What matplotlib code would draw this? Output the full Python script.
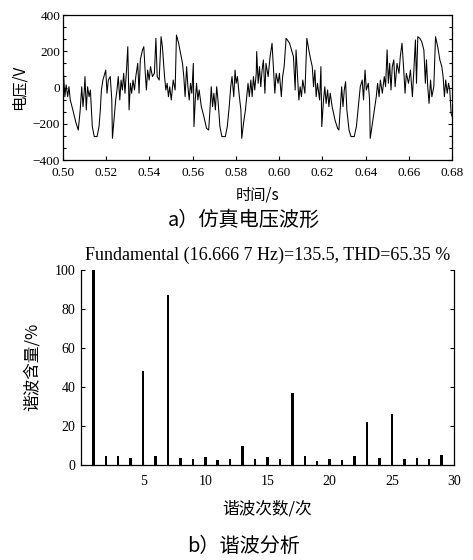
import matplotlib
matplotlib.use("Agg")
import matplotlib.pyplot as plt
from matplotlib.ticker import AutoMinorLocator, MultipleLocator

plt.rcParams['font.family'] = ['Liberation Serif', 'Noto Sans CJK SC', 'DejaVu Sans']
CJK = ['Noto Sans CJK SC', 'DejaVu Sans']

# waveform (time in s, voltage in V)
t = [0.5000, 0.5003, 0.5009, 0.5015, 0.5022, 0.5028, 0.5034, 0.5046, 0.5059, 0.5071,
     0.5080, 0.5087, 0.5093, 0.5099, 0.5102, 0.5108, 0.5114, 0.5121, 0.5127, 0.5136,
     0.5145, 0.5158, 0.5167, 0.5173, 0.5178, 0.5185, 0.5198, 0.5204, 0.5210, 0.5219,
     0.5226, 0.5229, 0.5235, 0.5244, 0.5250, 0.5256, 0.5263, 0.5269, 0.5275, 0.5281,
     0.5287, 0.5294, 0.5300, 0.5306, 0.5312, 0.5318, 0.5324, 0.5331, 0.5337, 0.5346,
     0.5352, 0.5358, 0.5368, 0.5374, 0.5380, 0.5386, 0.5392, 0.5399, 0.5405, 0.5414,
     0.5423, 0.5430, 0.5436, 0.5445, 0.5454, 0.5460, 0.5470, 0.5476, 0.5482, 0.5488,
     0.5494, 0.5501, 0.5510, 0.5519, 0.5525, 0.5535, 0.5544, 0.5553, 0.5559, 0.5565,
     0.5572, 0.5578, 0.5584, 0.5590, 0.5596, 0.5603, 0.5606, 0.5612, 0.5618, 0.5624,
     0.5630, 0.5640, 0.5652, 0.5664, 0.5674, 0.5680, 0.5686, 0.5692, 0.5698, 0.5705,
     0.5711, 0.5717, 0.5726, 0.5735, 0.5751, 0.5760, 0.5769, 0.5776, 0.5782, 0.5790,
     0.5796, 0.5801, 0.5807, 0.5816, 0.5823, 0.5827, 0.5835, 0.5844, 0.5850, 0.5856,
     0.5862, 0.5869, 0.5875, 0.5881, 0.5887, 0.5894, 0.5896, 0.5903, 0.5909, 0.5915,
     0.5921, 0.5927, 0.5934, 0.5939, 0.5949, 0.5958, 0.5967, 0.5973, 0.5980, 0.5986,
     0.5995, 0.6001, 0.6010, 0.6016, 0.6023, 0.6032, 0.6038, 0.6048, 0.6057, 0.6066,
     0.6074, 0.6078, 0.6085, 0.6091, 0.6097, 0.6103, 0.6109, 0.6119, 0.6128, 0.6137,
     0.6146, 0.6153, 0.6159, 0.6165, 0.6171, 0.6177, 0.6187, 0.6193, 0.6197, 0.6205,
     0.6211, 0.6217, 0.6224, 0.6230, 0.6236, 0.6245, 0.6258, 0.6270, 0.6276, 0.6282,
     0.6289, 0.6295, 0.6301, 0.6307, 0.6313, 0.6323, 0.6332, 0.6347, 0.6357, 0.6366,
     0.6375, 0.6384, 0.6390, 0.6397, 0.6403, 0.6412, 0.6418, 0.6421, 0.6431, 0.6440,
     0.6449, 0.6455, 0.6462, 0.6468, 0.6477, 0.6486, 0.6492, 0.6499, 0.6505, 0.6511,
     0.6517, 0.6523, 0.6530, 0.6536, 0.6545, 0.6554, 0.6560, 0.6568, 0.6576, 0.6582,
     0.6588, 0.6598, 0.6607, 0.6616, 0.6622, 0.6630, 0.6635, 0.6641, 0.6650, 0.6659,
     0.6669, 0.6676, 0.6681, 0.6687, 0.6693, 0.6700, 0.6706, 0.6715, 0.6723, 0.6733,
     0.6743, 0.6752, 0.6758, 0.6764, 0.6770, 0.6777, 0.6783, 0.6789, 0.6795, 0.6800]
u = [134, 70, -50, 15, -50, 5, -68, -123, -188, -234,
     -123, 5, -105, -13, 61, -123, 5, -50, -13, -215,
     -270, -270, -215, -123, -13, 42, 97, -31, 42, 61,
     -68, -280, -197, -68, -13, 61, -68, 42, -13, 79,
     -31, 97, 226, -123, 24, -31, 42, -13, 61, 134,
     -31, 153, 208, 226, 97, -13, 97, 42, 116, 61,
     79, 272, 61, 42, 281, 226, 61, -13, 24, -50,
     5, -68, 42, -13, 290, 245, 189, 134, 61, -50,
     116, 5, -68, 24, -31, 134, -215, -68, 24, -68,
     -13, -105, -160, -224, -234, -123, 5, -105, -31, -123,
     5, -68, -215, -270, -270, -215, -105, 5, 61, -50,
     97, 24, 61, -50, -123, -280, -197, -123, -50, 24,
     -50, 42, -50, 61, -13, 79, 199, 24, 116, 5,
     97, 153, -31, 134, 61, 171, 245, 116, -31, 79,
     24, 79, -50, 61, 116, 272, 263, 245, 208, 171,
     -13, 208, 61, -68, 5, -50, 42, -31, 272, 208,
     153, 116, 5, 97, -50, 24, -68, 116, -215, -68,
     5, -87, -13, -105, -31, -105, -178, -224, -234, -123,
     5, -105, -13, 33, -123, -234, -270, -270, -215, -105,
     5, 42, -68, 97, -13, 24, -68, -280, -197, -123,
     -50, 24, -50, 42, -31, 61, 5, 208, 24, 134,
     -13, 116, 153, 5, 134, 79, 171, 245, 97, -31,
     79, 24, 97, -50, 79, 263, 24, 281, 272, 254,
     208, 24, 153, 5, -87, 42, -50, 5, 281, 226,
     153, 116, 61, -50, 42, -31, 24, -13, -142, -160]

# harmonic spectrum (% of fundamental)
orders = list(range(1, 30))
content = [100, 4.3, 4.3, 3.3, 48, 4.3, 87, 3.3, 3.1, 3.9,
           2.6, 3.1, 9.5, 3.1, 3.9, 2.9, 37, 4.3, 2.2, 3.1,
           2.6, 4.3, 22, 3.5, 26, 3.1, 3.3, 3.0, 5.1]

t_ticks = [0.50, 0.52, 0.54, 0.56, 0.58, 0.60, 0.62, 0.64, 0.66, 0.68]
title_b = "Fundamental (16.666 7 Hz)=135.5, THD=65.35 %"

fig = plt.figure(figsize=(4.73, 5.6), dpi=100)

# a) voltage waveform
ax1 = fig.add_axes([0.133, 0.714, 0.823, 0.259])
ax1.plot(t, u, color='black', lw=0.75)
ax1.set_xlim(0.50, 0.68)
ax1.set_ylim(-400, 400)
ax1.set_xticks(t_ticks)
ax1.set_xticklabels(["%.2f" % v for v in t_ticks])
ax1.set_yticks([-400, -200, 0, 200, 400])
ax1.yaxis.set_minor_locator(AutoMinorLocator(3))
ax1.tick_params(direction='in', labelsize=9.5, length=3, width=0.8,
                right=True, which='both')
ax1.tick_params(axis='x', pad=5)
ax1.tick_params(axis='y', pad=2)
ax1.tick_params(which='minor', length=2)
for s in ax1.spines.values():
    s.set_linewidth(0.9)
ax1.set_xlabel("时间/s", fontsize=11, labelpad=5, family=CJK)
ax1.set_ylabel("电压/V", fontsize=11, labelpad=4, family=CJK)
fig.text(0.515, 0.606, "a）仿真电压波形", ha='center', va='center',
         fontsize=14.5, family=CJK)

# b) harmonic analysis
ax2 = fig.add_axes([0.171, 0.170, 0.789, 0.348])
ax2.bar(orders, content, width=0.2, color='black', linewidth=0)
ax2.set_xlim(0, 30)
ax2.set_ylim(0, 100)
ax2.set_xticks([5, 10, 15, 20, 25, 30])
ax2.xaxis.set_minor_locator(MultipleLocator(1))
ax2.set_yticks([0, 20, 40, 60, 80, 100])
ax2.spines['top'].set_visible(False)
for s in ['left', 'right', 'bottom']:
    ax2.spines[s].set_linewidth(0.9)
ax2.tick_params(direction='in', labelsize=10, length=3, width=0.8, right=True,
                which='both')
ax2.tick_params(axis='x', pad=7)
ax2.tick_params(axis='y', pad=4)
ax2.tick_params(which='minor', length=2)
ax2.set_title(title_b, fontsize=13, pad=7)
ax2.set_xlabel("谐波次数/次", fontsize=12, labelpad=9, family=CJK)
ax2.set_ylabel("谐波含量/%", fontsize=12, labelpad=10, family=CJK)
fig.text(0.515, 0.024, "b）谐波分析", ha='center', va='center',
         fontsize=14.5, family=CJK)

fig.savefig("out.png", dpi=100)
